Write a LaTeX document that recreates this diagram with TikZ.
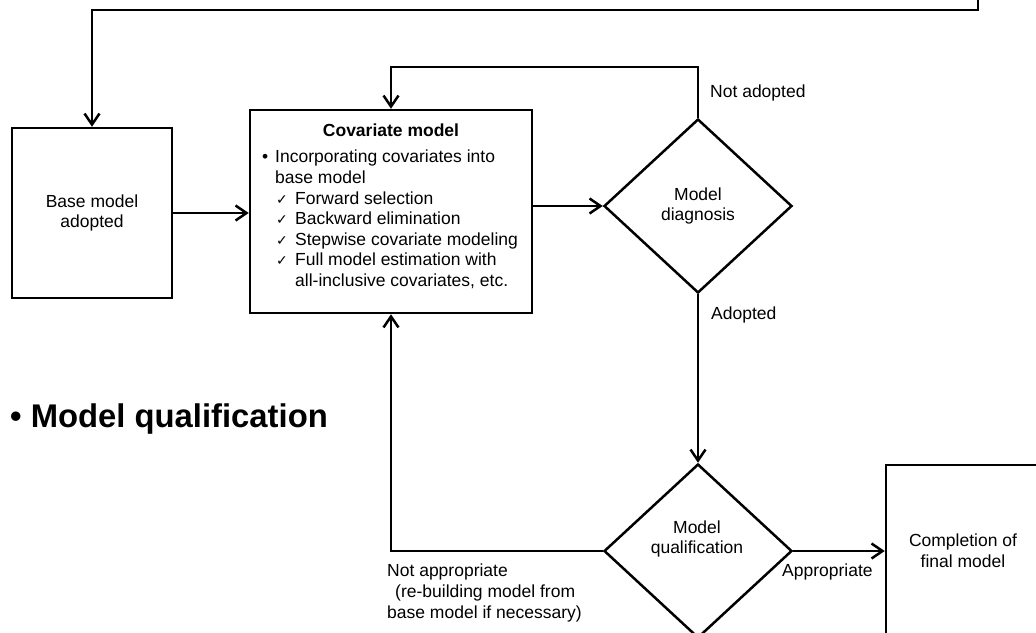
\documentclass[tikz,border=0pt]{standalone}
\usepackage{fontspec}
\setmainfont{Liberation Sans}
\newfontfamily\symfont{DejaVu Sans}
\usetikzlibrary{arrows.meta,shapes.geometric}

\newcommand{\chk}{{\symfont\fontsize{14}{20.6}\selectfont ✓}}

\begin{document}
\begin{tikzpicture}[x=1pt,y=-1pt]
    \tikzset{txt/.style={font=\fontsize{17.5}{20.6}\selectfont, inner sep=0pt},
             head/.style={font=\fontsize{17.5}{20.6}\selectfont\bfseries, inner sep=0pt},
             box/.style={draw, line width=2.5pt, inner sep=0pt, align=center},
             diam/.style={draw, diamond, line width=2.5pt, minimum width=188pt, minimum height=174pt, inner sep=0pt, align=center},
             arr/.style={line width=2.5pt, -{Straight Barb[length=11pt,width=15pt]}}}

    \clip (0,0) rectangle (1036,632);

    \node[box, txt, minimum width=160pt, minimum height=170pt] (base) at (92,213) {Base model\\adopted};

    \node[box, minimum width=282pt, minimum height=203pt] (cov) at (391,211.5) {};
    \node[head] (covhead) at (391,130) {Covariate model};
    \node[txt, anchor=west, align=left] (covlist) at (262,219.5)
        {\makebox[13pt][l]{•}Incorporating covariates into\\
         \hspace*{13pt}base model\\
         \hspace*{14pt}\makebox[19pt][l]{\chk}Forward selection\\
         \hspace*{14pt}\makebox[19pt][l]{\chk}Backward elimination\\
         \hspace*{14pt}\makebox[19pt][l]{\chk}Stepwise covariate modeling\\
         \hspace*{14pt}\makebox[19pt][l]{\chk}Full model estimation with\\
         \hspace*{33pt}all-inclusive covariates, etc.};

    \node[diam, txt] (diag) at (698,206) {Model\\diagnosis};
    \node[diam] (qual) at (698,551) {};
    \node[txt, align=center] (qualtext) at (697,539) {Model\\qualification};

    \node[box, txt, minimum width=154pt, minimum height=172pt] (final) at (963,551) {Completion of\\final model};

    % loop back from above
    \coordinate (src) at (978,-5);
    \coordinate (bend) at (978,10);
    \draw[arr] (src) -- (bend) -| (base.north);

    \draw[arr] (base.east) -- (base.east -| cov.west);
    \draw[arr] (cov.east |- diag.west) -- (diag.west);
    \draw[arr] (diag.north) -- ++(0,-51) -| (cov.north);
    \draw[arr] (diag.south) -- (qual.north);
    \draw[arr] (qual.west) -| (cov.south);
    \draw[arr] (qual.east) -- (final.west);

    \node[txt, anchor=west] (notadopted) at (710,93) {Not adopted};
    \node[txt, anchor=west] (adopted) at (711,315) {Adopted};
    \node[txt, anchor=west] (approp) at (782,572) {Appropriate};
    \node[txt, anchor=west, align=left] (notapprop) at (387,593)
        {Not appropriate\\
         \hspace*{8pt}(re-building model from\\
         base model if necessary)};

    \node[anchor=base west, inner sep=0pt, font=\fontsize{32.8}{36}\selectfont\bfseries] (qualhead) at (10,427.5) {• Model qualification};
\end{tikzpicture}
\end{document}
